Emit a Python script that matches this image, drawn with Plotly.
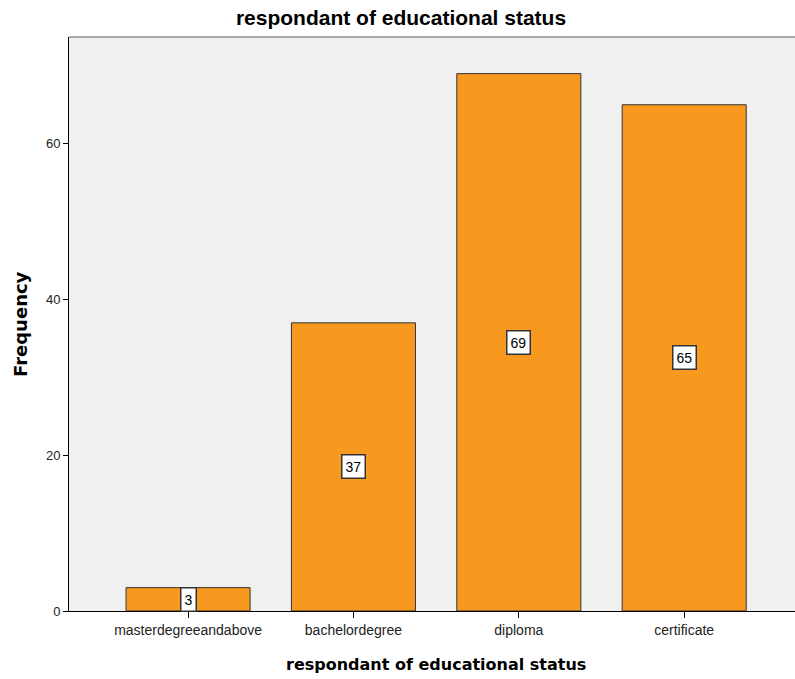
import plotly.graph_objects as go

categories = ["masterdegreeandabove", "bachelordegree", "diploma", "certificate"]
frequencies = [3, 37, 69, 65]
y_ticks = [0, 20, 40, 60]

W, H = 795, 679
PLOT_L, PLOT_T, PLOT_B = 69, 37, 611
BAR_COLOR = "#F7991F"
FONT = "Liberation Sans, Arial, sans-serif"
TITLE_FONT = "DejaVu Sans, Verdana, sans-serif"


def px_to_paper_x(px):
    return (px - PLOT_L) / (W - PLOT_L)


def px_to_paper_y(py):
    return (PLOT_B - py) / (PLOT_B - PLOT_T)


fig = go.Figure()
fig.add_trace(go.Bar(
    x=list(range(len(categories))),
    y=frequencies,
    width=0.75,
    marker=dict(color=BAR_COLOR, line=dict(color="#333333", width=1)),
    hoverinfo="skip",
))

# value boxes centred at half the bar height
for i, v in enumerate(frequencies):
    fig.add_annotation(
        x=i, y=v / 2, xref="x", yref="y", text=str(v), showarrow=False,
        font=dict(family=FONT, size=14, color="#000000"),
        bgcolor="#FFFFFF", bordercolor="#333333", borderwidth=1.5, borderpad=3,
    )

# axis titles
fig.add_annotation(
    x=px_to_paper_x(436), y=px_to_paper_y(664), xref="paper", yref="paper",
    xanchor="center", yanchor="middle", showarrow=False,
    text="<b>respondant of educational status</b>",
    font=dict(family=TITLE_FONT, size=16, color="#000000"),
)
fig.add_annotation(
    x=px_to_paper_x(20), y=px_to_paper_y(324), xref="paper", yref="paper",
    xanchor="center", yanchor="middle", showarrow=False, textangle=-90,
    text="<b>Frequency</b>",
    font=dict(family=TITLE_FONT, size=18, color="#000000"),
)

fig.update_layout(
    width=W, height=H,
    margin=dict(l=PLOT_L, r=0, t=PLOT_T, b=H - PLOT_B),
    paper_bgcolor="#FFFFFF",
    plot_bgcolor="#F0F0F0",
    showlegend=False,
    font=dict(family=FONT, size=12, color="#000000"),
    title=dict(
        text="<b>respondant of educational status</b>",
        x=401 / W, xanchor="center", y=1 - 18 / H, yanchor="middle",
        font=dict(family=FONT, size=21, color="#000000"),
    ),
    xaxis=dict(
        range=[-0.72, 3.67],
        tickmode="array", tickvals=list(range(len(categories))), ticktext=categories,
        ticks="outside", ticklen=6, tickcolor="#000000",
        showline=True, linecolor="#000000", linewidth=1,
        showgrid=False, zeroline=False,
        tickfont=dict(family=FONT, size=14, color="#222222"),
    ),
    yaxis=dict(
        range=[0, 73.7],
        tickmode="array", tickvals=y_ticks,
        ticks="outside", ticklen=5, tickcolor="#000000",
        showline=True, linecolor="#000000", linewidth=1,
        showgrid=False, zeroline=False,
        tickfont=dict(family=FONT, size=13, color="#222222"),
    ),
)

# top frame line of the plot area
fig.add_shape(type="line", xref="paper", yref="paper", x0=0, x1=1, y0=1, y1=1,
              line=dict(color="#555555", width=1))

fig.write_html("out.html")
